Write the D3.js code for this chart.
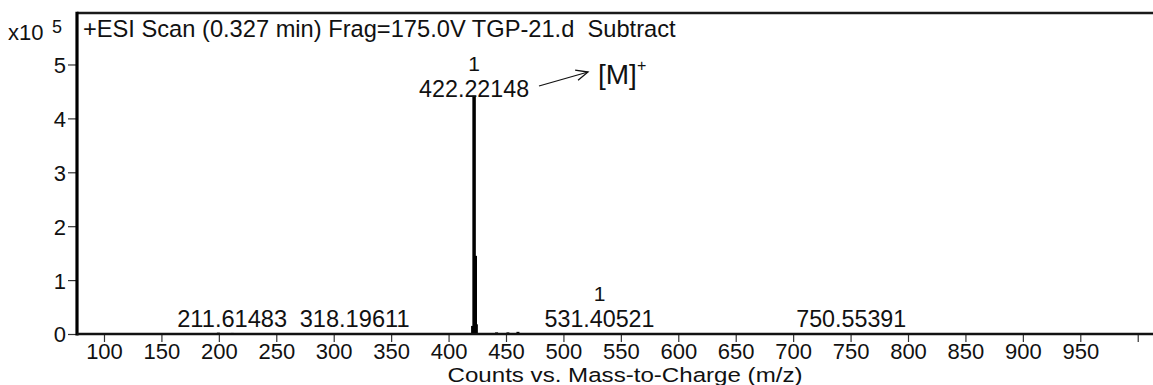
<!DOCTYPE html>
<html>
<head>
<meta charset="utf-8">
<script src="https://cdn.jsdelivr.net/npm/d3@7"></script>
<style>
  html, body { margin: 0; padding: 0; background: #fff; }
  svg { display: block; }
  text { font-family: "Liberation Sans", Arial, sans-serif; fill: #111; }
</style>
</head>
<body>
<svg id="chart" width="1153" height="385"></svg>
<script>
// ---- data ----
const peakMz        = [199.6, 211.61483, 318.19611, 420.9, 422.22148, 423.22, 424.2, 441.8, 451.7, 460.4, 531.40521, 750.55391];
const peakIntensity = [0.025, 0.02, 0.004, 0.15, 4.42, 1.45, 0.18, 0.03, 0.03, 0.04, 0.004, 0.004]; // x10^5 counts
const labelMz       = [211.61483, 318.19611, 422.22148, 531.40521, 750.55391];
const labelText     = ["211.61483", "318.19611", "422.22148", "531.40521", "750.55391"];
const labelCharge   = [null, null, "1", "1", null];
const xTickValues   = [100, 150, 200, 250, 300, 350, 400, 450, 500, 550, 600, 650, 700, 750, 800, 850, 900, 950, 1000];
const xTickLabels   = ["100","150","200","250","300","350","400","450","500","550","600","650","700","750","800","850","900","950",""];
const yTickValues   = [0, 1, 2, 3, 4, 5];
const titleText     = "+ESI Scan (0.327 min) Frag=175.0V TGP-21.d  Subtract";
const xAxisTitle    = "Counts vs. Mass-to-Charge (m/z)";
const annotText     = "[M]";

// ---- layout ----
const svg = d3.select("#chart");
const pLeft = 77, pRight = 1153, pTop = 13, pBottom = 334;

const x = d3.scaleLinear().domain([76.5, 1013.3]).range([pLeft, pRight]);
const y = d3.scaleLinear().domain([0, 5.955]).range([pBottom, pTop]);

function fitWidth(sel, w) {
  const n = sel.node();
  const fs = parseFloat(sel.attr("font-size"));
  const cur = n.getComputedTextLength();
  sel.attr("font-size", (fs * w / cur).toFixed(2));
  return sel;
}

// peaks
svg.append("g").selectAll("line").data(peakMz).join("line")
  .attr("x1", d => x(d)).attr("x2", d => x(d))
  .attr("y1", y(0)).attr("y2", (d, i) => y(peakIntensity[i]))
  .attr("stroke", "#000").attr("stroke-width", (d, i) => peakIntensity[i] > 1 ? 3.5 : 3);

// x axis
const xAxis = d3.axisBottom(x).tickValues(xTickValues)
  .tickFormat((d, i) => xTickLabels[i]).tickSize(8).tickPadding(2);
const gx = svg.append("g").attr("transform", `translate(0,${pBottom})`).call(xAxis);
gx.select(".domain").remove();
gx.selectAll(".tick line").attr("stroke", "#333").attr("stroke-width", 1.2);
gx.selectAll(".tick text").attr("font-size", 22).attr("font-family", "Liberation Sans, Arial, sans-serif")
  .attr("fill", "#111").attr("dy", null).attr("y", 25);

// y axis
const yAxis = d3.axisLeft(y).tickValues(yTickValues).tickFormat(d3.format("d")).tickSize(9).tickPadding(2);
const gy = svg.append("g").attr("transform", `translate(${pLeft},0)`).call(yAxis);
gy.select(".domain").remove();
gy.selectAll(".tick line").attr("stroke", "#333").attr("stroke-width", 1.2);
gy.selectAll(".tick text").attr("font-size", 22).attr("font-family", "Liberation Sans, Arial, sans-serif")
  .attr("fill", "#111").attr("dy", "0.36em");

// frame lines
svg.append("line").attr("x1", pLeft).attr("x2", pRight).attr("y1", pTop).attr("y2", pTop)
  .attr("stroke", "#1a1a1a").attr("stroke-width", 2.5);
svg.append("line").attr("x1", pLeft).attr("x2", pLeft).attr("y1", pTop - 1.2).attr("y2", pBottom + 1.5)
  .attr("stroke", "#000").attr("stroke-width", 3.2);
svg.append("line").attr("x1", pLeft).attr("x2", pRight).attr("y1", pBottom).attr("y2", pBottom)
  .attr("stroke", "#111").attr("stroke-width", 2.6);

// title
const t = svg.append("text").attr("x", 83).attr("y", 37).attr("font-size", 22).style("white-space", "pre").text(titleText);
fitWidth(t, 593);

// x10^5
svg.append("text").attr("x", 8).attr("y", 40).attr("font-size", 22).text("x10");
svg.append("text").attr("x", 52).attr("y", 33).attr("font-size", 18).text("5");

// x axis title
svg.append("text").attr("x", 625).attr("y", 382).attr("text-anchor", "middle").attr("font-size", 20.5)
  .attr("textLength", 355).attr("lengthAdjust", "spacingAndGlyphs").text(xAxisTitle);

// peak labels
labelMz.forEach((mz, i) => {
  const isMain = labelText[i] === "422.22148";
  const base = isMain ? 97 : 327;
  const lt = svg.append("text").attr("x", x(mz)).attr("y", base).attr("text-anchor", "middle")
    .attr("font-size", 23).text(labelText[i]);
  fitWidth(lt, 110);
  if (labelCharge[i]) {
    svg.append("text").attr("x", x(mz)).attr("y", base - 26).attr("text-anchor", "middle")
      .attr("font-size", 21).text(labelCharge[i]);
  }
});

// arrow annotation
const ax1 = 539, ay1 = 86, ax2 = 588, ay2 = 72;
svg.append("line").attr("x1", ax1).attr("y1", ay1).attr("x2", ax2).attr("y2", ay2)
  .attr("stroke", "#111").attr("stroke-width", 1.3);
const ang = Math.atan2(ay2 - ay1, ax2 - ax1);
const hl = 13, ha = 0.42;
svg.append("path")
  .attr("d", `M${ax2 - hl * Math.cos(ang - ha)},${ay2 - hl * Math.sin(ang - ha)} L${ax2},${ay2} L${ax2 - hl * Math.cos(ang + ha)},${ay2 - hl * Math.sin(ang + ha)}`)
  .attr("fill", "none").attr("stroke", "#111").attr("stroke-width", 1.3);
const mt = svg.append("text").attr("x", 598).attr("y", 84).attr("font-size", 28)
  .attr("font-family", "Open Sans, Noto Sans, sans-serif").text(annotText);
mt.append("tspan").attr("font-size", 16).attr("dy", -13).text("+");
</script>
</body>
</html>
